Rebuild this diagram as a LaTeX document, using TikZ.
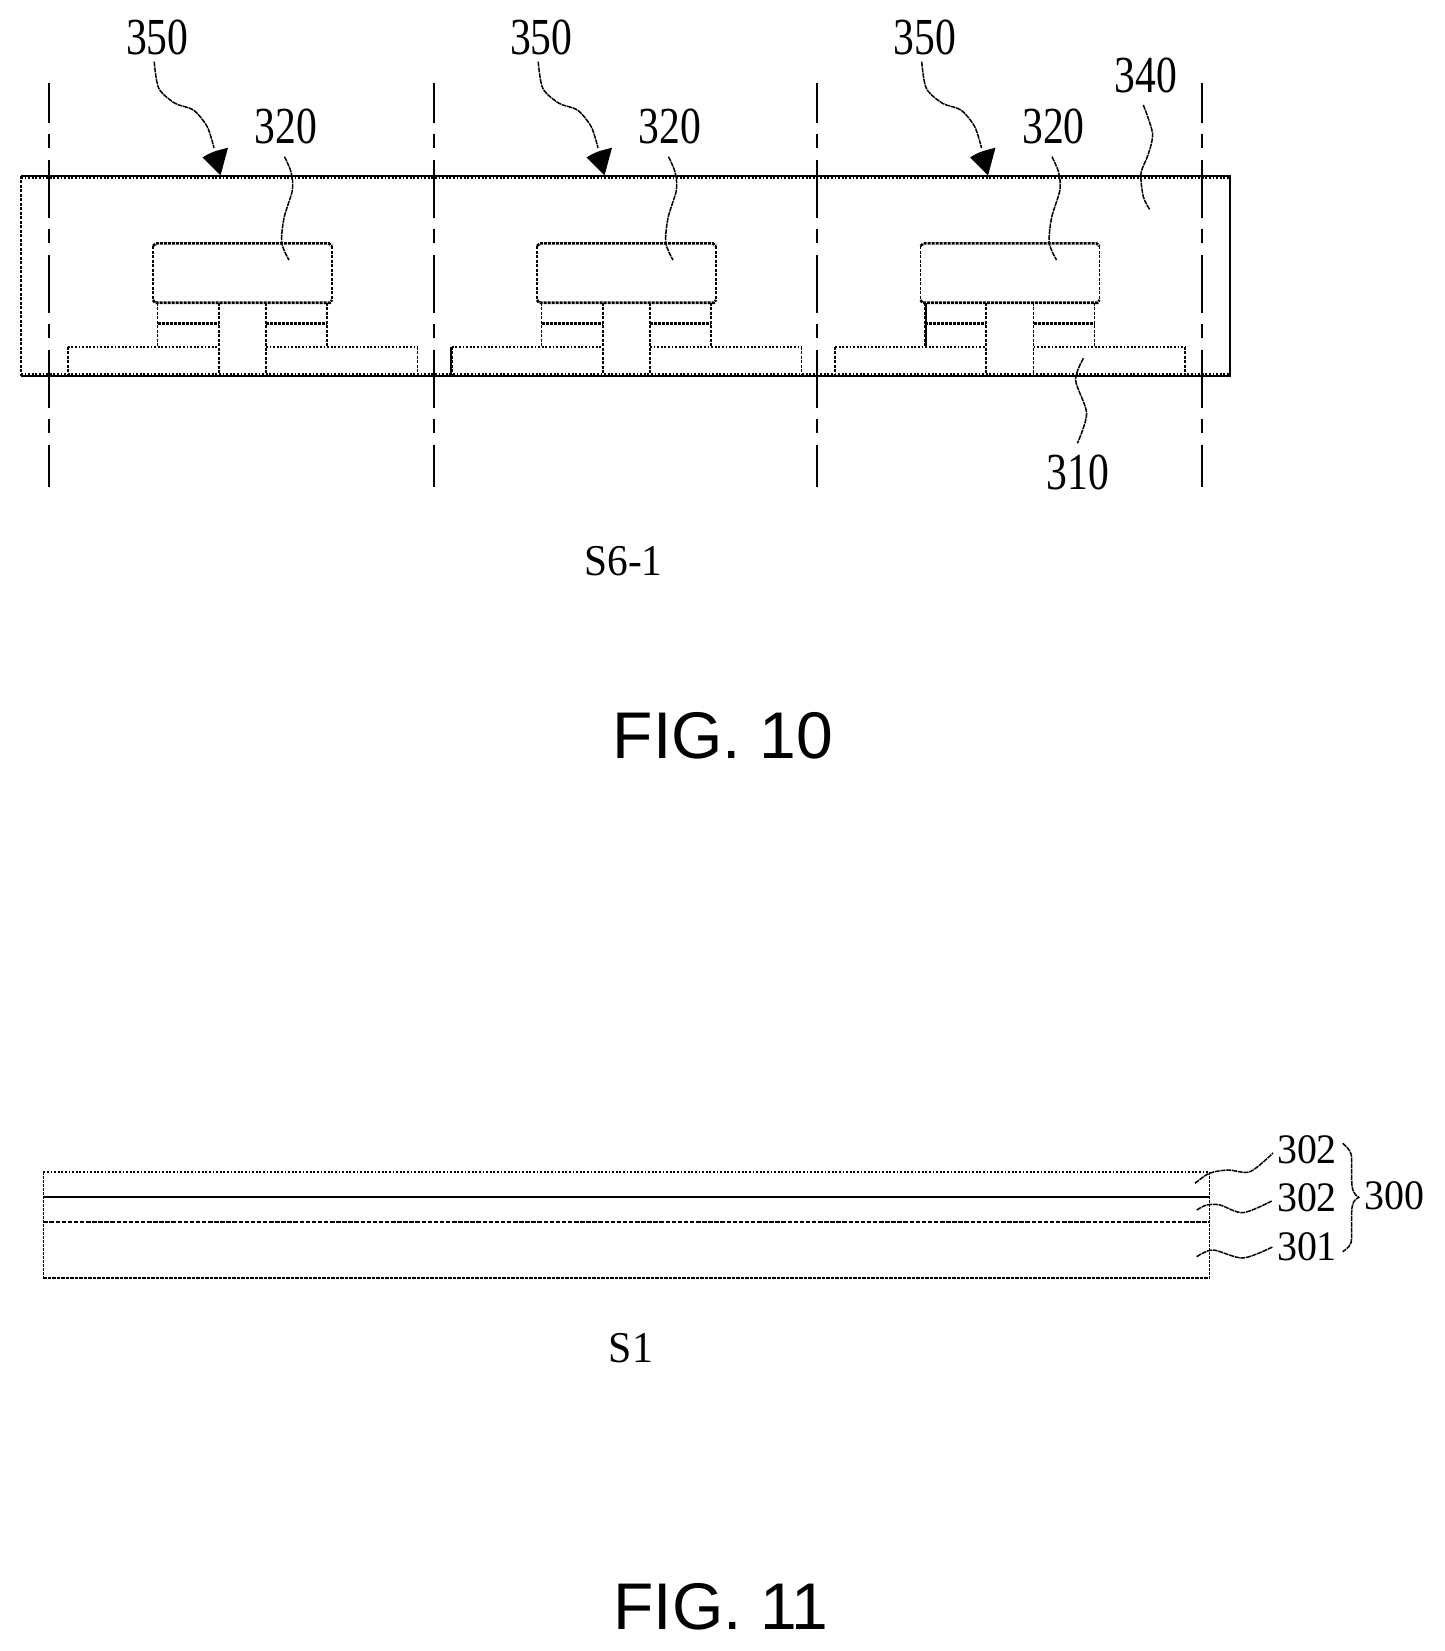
\documentclass[tikz,border=0pt]{standalone}
\usepackage{fontspec}
\setmainfont{Liberation Serif}
\newfontfamily\figfont{Liberation Sans}
\newcommand{\narrow}[2]{\scalebox{#1}[1]{#2}}
\tikzset{
  x=1pt,y=-1pt,
  heavy/.style={line width=2.6pt,dash pattern=on 3pt off 1pt},
  thin rough/.style={line width=1.7pt,dash pattern=on 3.2pt off 1.3pt},
  dots rough/.style={line width=2pt,dash pattern=on 1.8pt off 1.8pt},
  solid edge/.style={line width=2pt},
  axis line/.style={line width=1.7pt,dash pattern=on 58pt off 11pt on 14pt off 12pt,dash phase=18pt},
  leader/.style={line width=1.5pt,dash pattern=on 5pt off .8pt,line join=round},
  labelbig/.style={inner sep=0pt,font=\fontsize{52}{52}\selectfont},
  labelsmall/.style={inner sep=0pt,font=\fontsize{42}{42}\selectfont},
  steplabel/.style={inner sep=0pt,font=\fontsize{44}{44}\selectfont},
  figlabel/.style={inner sep=0pt,font=\figfont\fontsize{66}{66}\selectfont},
}
\begin{document}
\begin{tikzpicture}
\useasboundingbox (0,0) rectangle (1444,1651);
% ---------- FIG. 10 ----------
% encapsulation outline
\draw[solid edge] (21,175.6) -- (1230,175.6) -- (1230,375.8) -- (21,375.8);
\draw[dots rough] (21,177.8) -- (1230,177.8);
\draw[dots rough] (21,373.8) -- (1230,373.8);
\draw[thin rough] (21,175.6) -- (21,375.8);
% dicing lines
\foreach \xx in {48.8,433.7,817.3,1202}
  \draw[axis line] (\xx,83) -- (\xx,487);
% repeated cell
\foreach \off/\n in {0/a,384/b,767.5/c}{
  \begin{scope}[xshift=\off pt]
    % cap 320
    \draw[thin rough] (153,246) -- (153,300);
    \draw[thin rough] (332,246) -- (332,300);
    \draw[heavy] (153,246) -- (156,243.4) -- (329,243.4) -- (332,246);
    \draw[heavy] (153,300) -- (155,302.7) -- (330,302.7) -- (332,300);
    % stacks
    \draw[thin rough] (157.5,302.7) -- (157.5,346.7);
    \draw[thin rough] (327,302.7) -- (327,346.7);
    \draw[heavy] (157.5,323.3) -- (218.7,323.3);
    \draw[heavy] (266,323.3) -- (327,323.3);
    \draw[thin rough] (218.7,302.7) -- (218.7,375.8);
    \draw[thin rough] (266,302.7) -- (266,375.8);
    % base 310
    \draw[dots rough] (67.7,346.7) -- (218.7,346.7);
    \draw[dots rough] (266,346.7) -- (417.6,346.7);
    \draw[thin rough] (67.7,346.7) -- (67.7,375.8);
    \draw[thin rough] (417.6,346.7) -- (417.6,375.8);
    % label 320 leader
    \node[labelbig] (lab320\n) at (286,126) {\narrow{.8}{320}};
    \draw[leader] plot[smooth] coordinates {(284.5,156.7) (291,172) (292.4,190) (284,218) (281.8,243) (289,260)};
    % label 350 and its arrow
    \node[labelbig] (lab350\n) at (157.2,37.7) {\narrow{.8}{350}};
    \draw[leader] plot[smooth] coordinates {(154.2,61.7) (158.8,88.3) (175,103.3) (193.4,110) (207.2,126.7) (214,148)};
    \fill (202.6,157.5) .. controls (212,151) and (220,150) .. (228,147.7) -- (220.5,175.5) -- cycle;
  \end{scope}
}
\draw[solid edge] (926,302.7) -- (926,346.7);
\draw[solid edge] (450.5,346.7) -- (450.5,375.8);
\node[labelbig] (lab340) at (1145.6,75.5) {\narrow{.8}{340}};
\draw[leader] plot[smooth] coordinates {(1143.3,105) (1152.5,133.3) (1148,155) (1141,173.3) (1143.3,196.7) (1150,210)};
\node[labelbig] (lab310) at (1078,472.5) {\narrow{.8}{310}};
\draw[leader] plot[smooth] coordinates {(1083.4,358.3) (1075.6,380) (1086.6,413.3) (1077.4,443.3)};
\node[steplabel] (s61) at (623.5,561.5) {\narrow{.94}{S6-1}};
\node[figlabel] (fig10) at (723,736) {FIG. 10};
% ---------- FIG. 11 ----------
\draw[dots rough] (43.3,1172.3) -- (1209.3,1172.3);
\draw[solid edge] (43.3,1196.7) -- (1209.3,1196.7);
\draw[line width=1.6pt,dash pattern=on 4.5pt off 1.6pt] (43.3,1221.7) -- (1209.3,1221.7);
\draw[thin rough] (43.3,1277.7) -- (1209.3,1277.7);
\draw[line width=1.4pt,dash pattern=on 2.6pt off 1.4pt] (43.3,1172.3) -- (43.3,1277.7);
\draw[line width=1.4pt,dash pattern=on 2.6pt off 1.4pt] (1209.3,1172.3) -- (1209.3,1277.7);
\node[labelsmall] (lab302a) at (1307,1149.5) {\narrow{.95}{302}};
\node[labelsmall] (lab302b) at (1307,1198) {\narrow{.95}{302}};
\node[labelsmall] (lab301) at (1307,1247) {\narrow{.95}{301}};
\node[labelsmall] (lab300) at (1394.5,1196) {\narrow{.95}{300}};
\draw[leader] plot[smooth] coordinates {(1195,1183.3) (1209.3,1173.3) (1228,1170) (1250,1171.7) (1273,1153)};
\draw[leader] plot[smooth] coordinates {(1196.7,1210) (1206.7,1205) (1220,1205) (1243,1212.7) (1271.7,1201)};
\draw[leader] plot[smooth] coordinates {(1196.7,1256.7) (1213,1250) (1243,1258) (1273,1246.7)};
\draw[leader] (1342.7,1143.3) .. controls (1350,1150) and (1351.7,1152) .. (1351.7,1160)
  -- (1351.7,1180) .. controls (1351.7,1190) and (1354,1195) .. (1359,1197.3)
  .. controls (1354,1199) and (1351.7,1204) .. (1351.7,1212)
  -- (1351.7,1238) .. controls (1351.7,1245) and (1348,1248) .. (1342.7,1251.7);
\node[steplabel] (s1) at (631,1348) {\narrow{.95}{S1}};
\node[figlabel] (fig11) at (721,1607) {FIG. 11};
\end{tikzpicture}
\end{document}
